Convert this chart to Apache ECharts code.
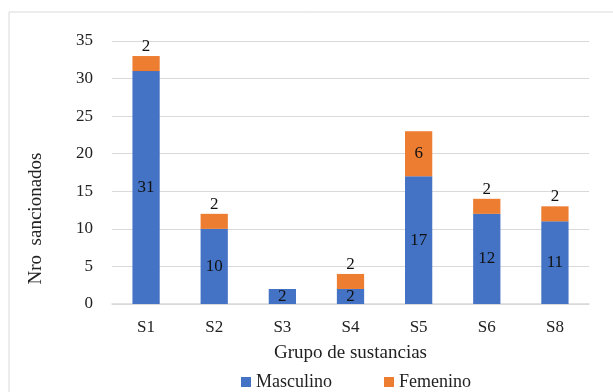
<!DOCTYPE html>
<html><head><meta charset="utf-8">
<script src="https://cdn.jsdelivr.net/npm/echarts@6/dist/echarts.min.js"></script>
<style>html,body{margin:0;padding:0;background:#fff}#c{width:613px;height:392px}</style>
</head><body><div id="c"></div>
<script>
var categories = ['S1','S2','S3','S4','S5','S6','S8'];
var masculino = [31,10,2,2,17,12,11];
var femenino = [2,2,0,2,6,2,2];
var seriesNames = ['Masculino','Femenino'];
var yTicks = {min:0, max:35, interval:5};

var font = '"Liberation Serif", "Times New Roman", serif';
var chart = echarts.init(document.getElementById('c'));
chart.setOption({
  animation:false,
  textStyle:{fontFamily:font},
  graphic:[{type:'rect', shape:{x:9,y:12,width:640,height:420}, style:{fill:'none', stroke:'#D9D9D9', lineWidth:1}, z:-1}],
  grid:{left:112, right:24, top:41, bottom:88},
  legend:{bottom:-4, left:236, itemWidth:10, itemHeight:10, itemGap:52, icon:'rect',
    textStyle:{fontFamily:'serif', fontSize:18, color:'#222'},
    data:seriesNames},
  xAxis:{type:'category', data:categories,
    axisLine:{lineStyle:{color:'#D9D9D9', width:1.5}}, axisTick:{show:false},
    axisLabel:{fontFamily:font, fontSize:17, color:'#222', margin:15},
    name:'Grupo de sustancias', nameLocation:'middle', nameGap:40,
    nameTextStyle:{fontFamily:font, fontSize:19, color:'#222'}},
  yAxis:{type:'value', min:yTicks.min, max:yTicks.max, interval:yTicks.interval,
    axisLine:{show:false}, axisTick:{show:false},
    splitLine:{lineStyle:{color:'#D9D9D9', width:1}},
    axisLabel:{fontFamily:font, fontSize:17, color:'#222', margin:19},
    name:'Nro  sancionados', nameLocation:'middle', nameGap:66,
    nameTextStyle:{fontFamily:font, fontSize:19, color:'#222', padding:[0,92,0,0]}},
  series:[
    {name:seriesNames[0], type:'bar', stack:'t', data:masculino, barWidth:'40%',
      itemStyle:{color:'#4472C4'},
      label:{show:true, position:'inside', fontFamily:font, fontSize:17, color:'#111'}},
    {name:seriesNames[1], type:'bar', stack:'t', barWidth:'40%',
      itemStyle:{color:'#ED7D31'},
      data:femenino.map(function(v){
        return {value:v, label:{show:v>0, position: v>=4 ? 'inside' : 'top', distance:1}};
      }),
      label:{show:true, fontFamily:font, fontSize:17, color:'#111'}}
  ]
});
</script></body></html>
